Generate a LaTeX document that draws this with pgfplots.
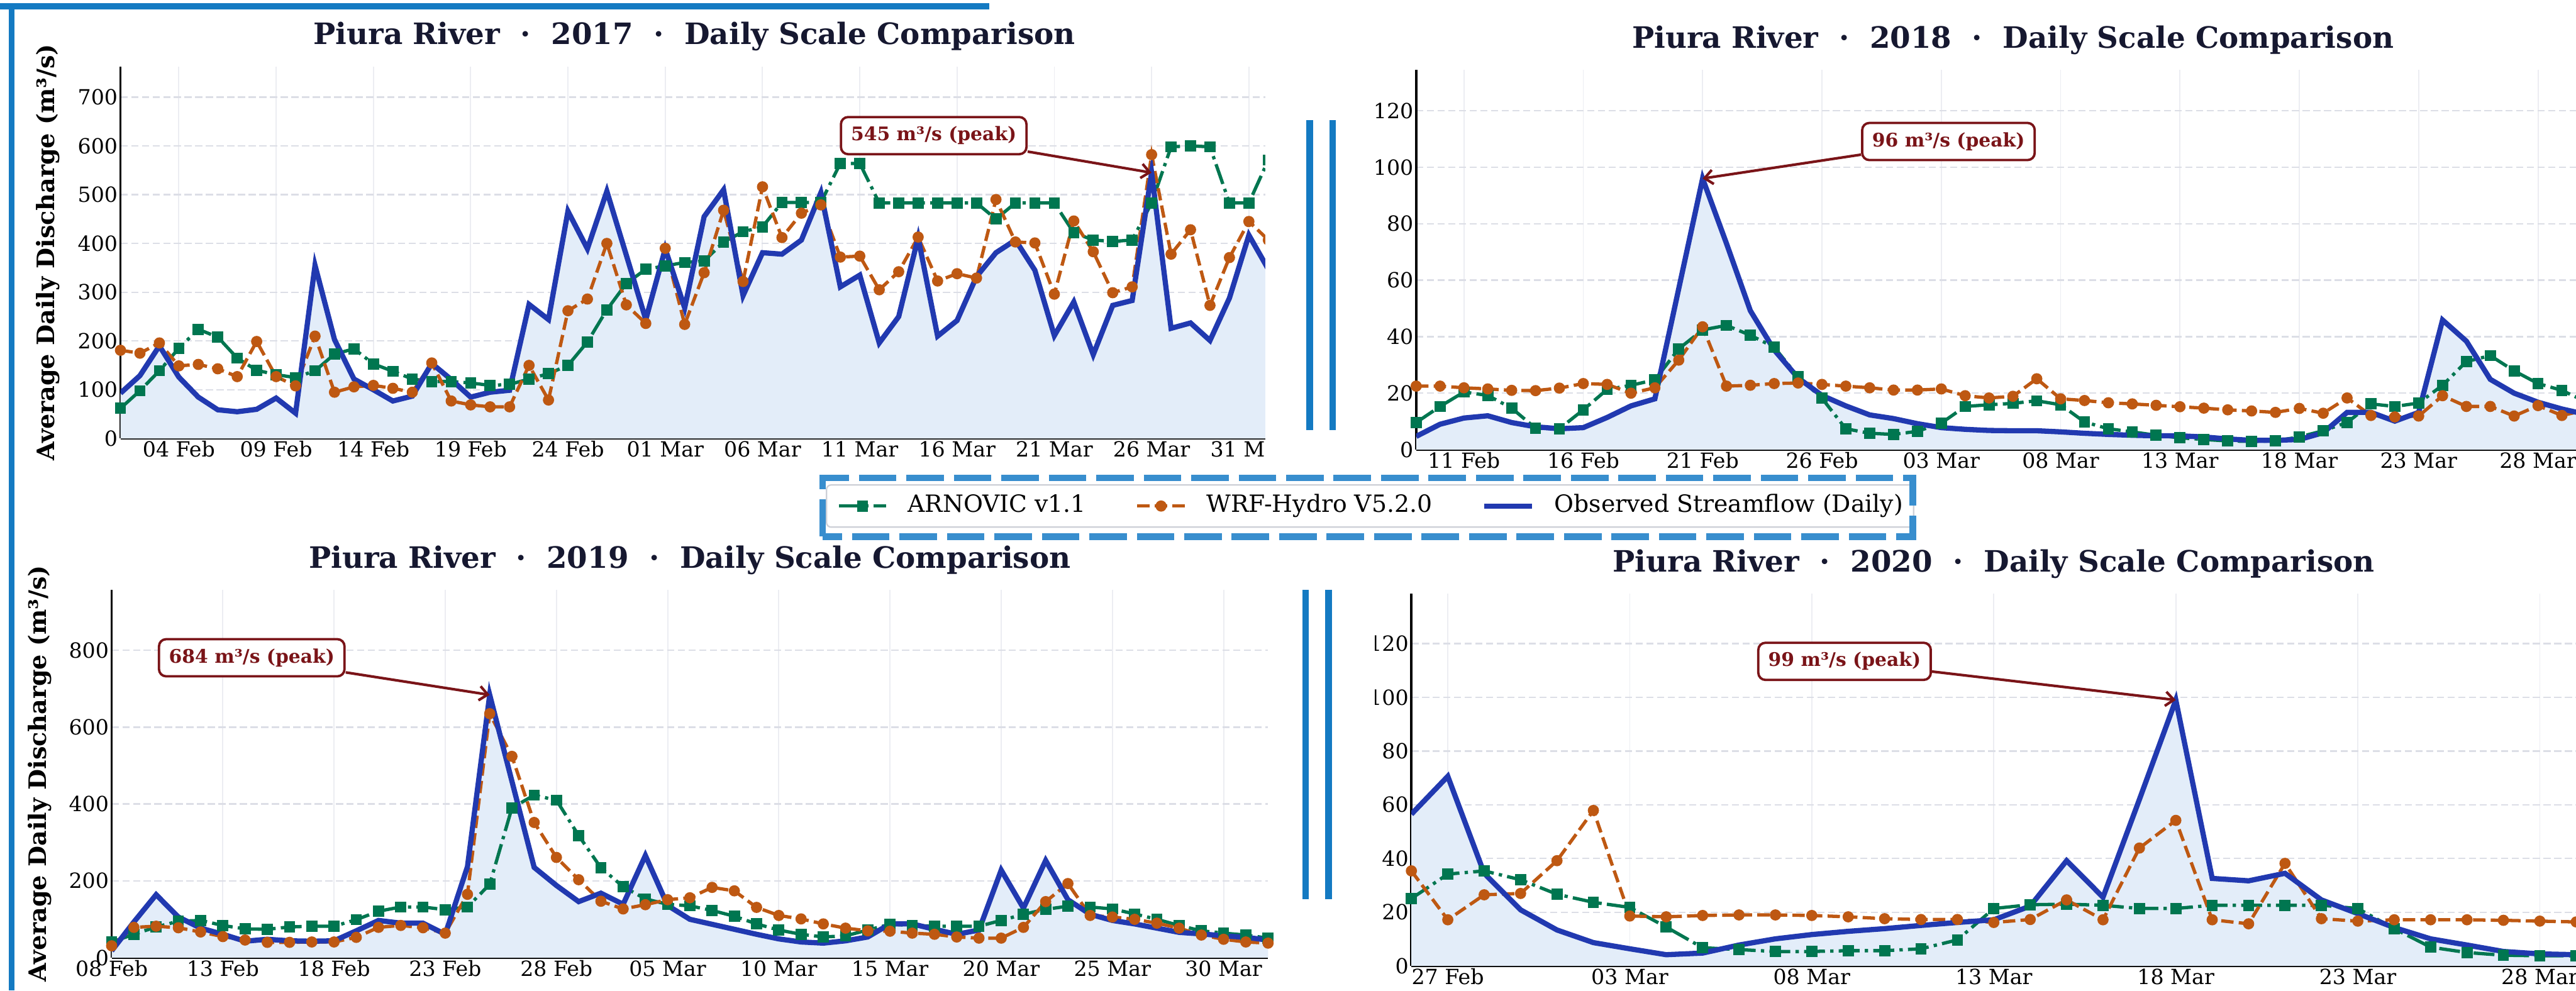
\documentclass[border=0pt]{standalone}
\usepackage{fontspec}
\setmainfont{DejaVu Serif}
\usepackage{pgfplots}
\pgfplotsset{compat=1.18}
\usepackage{pgfplotstable}
\usetikzlibrary{arrows.meta}

\definecolor{obsblue}{RGB}{33,57,176}
\definecolor{obsfill}{RGB}{227,237,249}
\definecolor{arngreen}{RGB}{0,118,80}
\definecolor{wrforange}{RGB}{190,88,18}
\definecolor{annred}{RGB}{122,20,24}
\definecolor{barblue}{RGB}{20,122,194}
\definecolor{legblue}{RGB}{56,142,206}
\definecolor{titlecol}{RGB}{22,24,48}
\definecolor{xgridcol}{RGB}{236,237,242}
\definecolor{ygridcol}{RGB}{220,222,230}
\definecolor{legframe}{RGB}{205,208,215}

\pgfplotstableread{
d obs arn wrf
0 93 62 181
1 129 98 175
2 190 139 196
3 126 185 149
4 85 224 152
5 59 208 143
6 55 165 127
7 60 140 199
8 83 131 127
9 52 125 108
10 355 139 210
11 203 173 95
12 122 184 106
13 100 153 109
14 77 138 103
15 87 122 95
16 154 117 155
17 121 117 77
18 85 114 69
19 95 109 65
20 99 111 65
21 275 122 150
22 244 133 79
23 466 150 262
24 389 198 286
25 507 264 400
26 376 318 274
27 244 347 236
28 389 354 390
29 268 361 234
30 455 364 340
31 510 403 468
32 293 424 322
33 381 434 516
34 378 484 412
35 407 484 462
36 504 484 479
37 311 564 372
38 335 564 374
39 196 483 305
40 250 483 342
41 412 483 413
42 210 483 323
43 242 483 338
44 332 483 329
45 381 450 490
46 407 483 403
47 345 483 401
48 211 483 296
49 280 422 446
50 172 407 383
51 273 404 299
52 283 407 311
53 545 483 582
54 226 598 378
55 237 600 428
56 201 598 273
57 288 483 371
58 417 483 445
59 347 571 407
}\tabA

\pgfplotstableread{
d obs arn wrf
0 4.7 9.6 22.5
1 9.0 15.3 22.5
2 11.2 20.4 21.9
3 12.0 19.2 21.5
4 9.6 14.7 21.0
5 8.1 7.6 20.9
6 7.4 7.4 21.8
7 7.8 14.1 23.4
8 11.4 21.3 23.1
9 15.5 22.8 20.0
10 18.0 24.7 21.9
11 57 35.7 31.7
12 96 42.4 43.5
13 73 44.0 22.5
14 49.2 40.5 22.8
15 35.3 36.3 23.4
16 25.4 25.8 23.6
17 19.2 18.2 23.1
18 15.5 7.4 22.5
19 12.3 5.8 21.9
20 11.0 5.4 21.1
21 9.2 6.5 21.1
22 7.8 9.4 21.5
23 7.2 15.3 19.1
24 6.8 15.9 18.3
25 6.7 16.4 18.9
26 6.7 17.3 25.1
27 6.3 15.9 18.0
28 5.8 9.8 17.4
29 5.4 7.4 16.6
30 5.1 6.3 16.2
31 4.9 5.1 15.7
32 4.9 4.2 15.2
33 4.5 3.6 14.7
34 3.8 3.1 14.1
35 3.3 2.9 13.7
36 3.3 3.1 13.2
37 3.6 4.5 14.6
38 6.0 6.7 12.9
39 13.2 9.6 18.3
40 13.2 16.2 12.1
41 10.1 15.3 11.6
42 13.2 16.5 11.9
43 45.9 22.8 19.1
44 38.4 31.2 15.3
45 24.9 33.3 15.3
46 20.0 27.9 11.9
47 16.8 23.4 15.6
48 14.4 21.0 12.1
49 12.5 17 14
50 11 14 12
}\tabB

\pgfplotstableread{
d obs arn wrf
0 18 41 31
1 93 61 79
2 164 80 82
3 106 95 78
4 77 97 67
5 61 84 55
6 43 75 46
7 48 74 40
8 44 80 40
9 43 82 41
10 44 82 41
11 70 99 53
12 97 121 79
13 90 132 84
14 90 132 78
15 61 125 64
16 237 132 165
17 684 191 635
18 459 390 524
19 235 423 352
20 188 410 261
21 146 318 203
22 168 234 147
23 139 185 127
24 266 153 138
25 136 139 151
26 100 135 156
27 87 123 183
28 74 108 174
29 61 88 131
30 49 72 110
31 41 61 101
32 38 54 88
33 44 57 77
34 54 72 70
35 88 87 69
36 88 84 64
37 74 82 61
38 61 82 54
39 72 82 51
40 228 97 51
41 129 113 79
42 253 126 146
43 151 134 193
44 113 132 110
45 97 127 106
46 88 114 100
47 77 100 90
48 66 84 77
49 62 70 59
50 57 64 48
51 53 59 41
52 46 51 38
}\tabC

\pgfplotstableread{
d obs arn wrf
0 56.5 25.1 35.4
1 70.6 34.2 17.2
2 34.5 35.4 26.5
3 20.9 32.1 27.0
4 13.4 26.7 39.2
5 8.7 23.7 57.9
6 6.4 21.8 18.6
7 4.2 14.5 18.3
8 4.8 6.8 18.8
9 7.8 6.1 19.0
10 10.1 5.4 19.0
11 11.7 5.4 18.8
12 12.9 5.7 18.3
13 13.9 5.7 17.6
14 15.1 6.4 17.3
15 16.2 9.7 17.3
16 17.2 21.4 16.2
17 22.3 22.8 17.3
18 39.2 23.0 24.6
19 25.6 22.6 17.2
20 62 21.4 43.9
21 99 21.4 54.2
22 32.6 22.6 17.2
23 31.7 22.6 15.7
24 34.5 22.6 38.2
25 24.6 22.6 17.6
26 19.5 21.4 16.7
27 14.3 13.9 17.2
28 10.1 7.0 17.2
29 7.8 5.0 17.2
30 5.4 4.0 17.0
31 4.5 3.8 16.7
32 4.2 3.8 16.4
}\tabD

\pgfplotsset{
  panel/.style={
    scale only axis,
    axis lines*=left,
    axis line style={line width=1pt, black},
    xmin=0, ymin=0,
    major tick length=0pt,
    tick style={draw=none},
    xmajorgrids, ymajorgrids,
    x grid style={line width=0.5pt, color=xgridcol},
    y grid style={line width=0.6pt, color=ygridcol, dash pattern=on 3pt off 1.5pt},
    ticklabel style={font=\fontsize{8.8}{10}\selectfont},
    /pgf/number format/assume math mode=true,
    xticklabel style={anchor=base, yshift=-7.7pt, inner sep=0pt},
    yticklabel style={anchor=east, inner sep=0pt, xshift=-1pt},
    every axis title/.style={at={(0.5,1)}, anchor=base, yshift=9.2pt, font=\bfseries\fontsize{12.4}{14}\selectfont, text=titlecol},
    every axis y label/.style={font=\bfseries\fontsize{10.1}{12}\selectfont, anchor=center, rotate=90},
    legend image code/.code={\draw[mark repeat=2, mark phase=2, ##1] plot coordinates {(0pt,0pt) (10pt,0pt) (20pt,0pt)};},
  },
  arn/.style={color=arngreen, line width=1.4pt, dash pattern=on 8.8pt off 2.2pt on 1.4pt off 2.2pt, mark=square*, mark size=1.65pt, mark options={solid, fill=arngreen}},
  wrf/.style={color=wrforange, line width=1.4pt, dash pattern=on 5.2pt off 2.2pt, mark=*, mark size=1.65pt, mark options={solid, fill=wrforange}},
  obs/.style={color=obsblue, line width=2.2pt, solid, mark=none},
  obsarea/.style={draw=none, fill=obsfill, forget plot, mark=none},
}
\tikzset{
  annbox/.style={draw=annred, line width=1pt, rounded corners=3pt, fill=white, text=annred, font=\bfseries\fontsize{7.9}{9}\selectfont, inner xsep=4.2pt, inner ysep=4pt},
  annarrow/.style={annred, line width=1.1pt, -{Straight Barb[length=3.5pt, width=6pt]}},
}

\begin{document}
\begin{tikzpicture}
\path[use as bounding box] (0,0) rectangle (1085.28pt,417.36pt);
\clip (0,0) rectangle (1085.28pt,417.36pt);

% ---------- 2017 ----------
\begin{axis}[panel, at={(50.76pt,232.56pt)}, anchor=south west,
  width=483.6pt, height=156.84pt, xmax=59, ymax=763,
  ytick={0,100,...,700},
  xtick={3,8,...,58},
  xticklabels={04 Feb,09 Feb,14 Feb,19 Feb,24 Feb,01 Mar,06 Mar,11 Mar,16 Mar,21 Mar,26 Mar,31 Mar},
  title={Piura River\ \ ·\ \ 2017\ \ ·\ \ Daily Scale Comparison},
  ylabel={Average Daily Discharge (m³/s)},
  ylabel style={at={(axis description cs:-0.0631,0.5)}},
  legend columns=3,
  legend style={at={(1.0886,-0.1813)}, anchor=center, draw=legframe, fill=white, rounded corners=2pt, line width=0.6pt,
    font=\fontsize{10}{12}\selectfont, inner xsep=4.5pt, inner ysep=4pt,
    nodes={inner sep=0pt, text height=7.6pt, text depth=2.2pt},
    /tikz/every odd column/.append style={column sep=8.4pt},
    /tikz/every even column/.append style={column sep=20.9pt}},
]
\addplot[obsarea] table[x=d,y=obs] {\tabA} \closedcycle;
\addplot[arn] table[x=d,y=arn] {\tabA};
\addlegendentry{ARNOVIC v1.1}
\addplot[wrf] table[x=d,y=wrf] {\tabA};
\addlegendentry{WRF-Hydro V5.2.0}
\addplot[obs] table[x=d,y=obs] {\tabA};
\addlegendentry{Observed Streamflow (Daily)}
\node[annbox] (a17) at (axis cs:41.8,621) {545 m³/s (peak)};
\draw[annarrow] (a17) -- (axis cs:53,545);
\end{axis}

% panel crop of the 2017 figure at its right edge
\fill[white] (533.0pt,216.5pt) rectangle (549pt,393pt);

% ---------- 2018 ----------
\begin{axis}[panel, at={(596.64pt,227.88pt)}, anchor=south west,
  width=502.8pt, height=159.96pt, xmax=50, ymax=134.4,
  ytick={0,20,...,120},
  xtick={2,7,...,47},
  xticklabels={11 Feb,16 Feb,21 Feb,26 Feb,03 Mar,08 Mar,13 Mar,18 Mar,23 Mar,28 Mar},
  title={Piura River\ \ ·\ \ 2018\ \ ·\ \ Daily Scale Comparison},
]
\addplot[obsarea] table[x=d,y=obs] {\tabB} \closedcycle;
\addplot[arn] table[x=d,y=arn] {\tabB};
\addplot[wrf] table[x=d,y=wrf] {\tabB};
\addplot[obs] table[x=d,y=obs] {\tabB};
\node[annbox] (a18) at (axis cs:22.3,109.1) {96 m³/s (peak)};
\draw[annarrow] (a18) -- (axis cs:12,96);
\end{axis}

% ---------- 2019 ----------
\begin{axis}[panel, at={(47.04pt,13.8pt)}, anchor=south west,
  width=487.2pt, height=155.06pt, xmax=52, ymax=957.6,
  ytick={0,200,...,800},
  xtick={0,5,...,50},
  xticklabels={08 Feb,13 Feb,18 Feb,23 Feb,28 Feb,05 Mar,10 Mar,15 Mar,20 Mar,25 Mar,30 Mar},
  title={Piura River\ \ ·\ \ 2019\ \ ·\ \ Daily Scale Comparison},
  ylabel={Average Daily Discharge (m³/s)},
  ylabel style={at={(axis description cs:-0.0621,0.5)}},
]
\addplot[obsarea] table[x=d,y=obs] {\tabC} \closedcycle;
\addplot[arn] table[x=d,y=arn] {\tabC};
\addplot[wrf] table[x=d,y=wrf] {\tabC};
\addplot[obs] table[x=d,y=obs] {\tabC};
\node[annbox] (a19) at (axis cs:6.3,780.6) {684 m³/s (peak)};
\draw[annarrow] (a19) -- (axis cs:17,684);
\end{axis}

% ---------- 2020 ----------
\begin{axis}[panel, at={(594.62pt,10.32pt)}, anchor=south west,
  width=490.75pt, height=156.89pt, xmax=32, ymax=138.6,
  ytick={0,20,...,120},
  xtick={1,6,...,31},
  xticklabels={27 Feb,03 Mar,08 Mar,13 Mar,18 Mar,23 Mar,28 Mar},
  title={Piura River\ \ ·\ \ 2020\ \ ·\ \ Daily Scale Comparison},
]
\addplot[obsarea] table[x=d,y=obs] {\tabD} \closedcycle;
\addplot[arn] table[x=d,y=arn] {\tabD};
\addplot[wrf] table[x=d,y=wrf] {\tabD};
\addplot[obs] table[x=d,y=obs] {\tabD};
\node[annbox] (a20) at (axis cs:11.9,113.4) {99 m³/s (peak)};
\draw[annarrow] (a20) -- (axis cs:21,99);
\end{axis}

% panel crop of the 2020 figure at its left edge
\fill[white] (563pt,0pt) rectangle (579.1pt,180pt);

% ---------- decorations ----------
\draw[legblue, line width=2.88pt, dash pattern=on 15.8pt off 4.2pt] (346.56pt,191.28pt) rectangle (805.92pt,216.0pt);
\fill[barblue] (550.38pt,236.16pt) rectangle (553.14pt,366.72pt);
\fill[barblue] (560.1pt,236.16pt) rectangle (562.86pt,366.72pt);
\fill[barblue] (548.7pt,38.4pt) rectangle (551.46pt,168.72pt);
\fill[barblue] (558.3pt,38.4pt) rectangle (561.06pt,168.72pt);
\fill[barblue] (0pt,413.5pt) rectangle (416.9pt,416.1pt);
\fill[barblue] (3.6pt,0pt) rectangle (6.2pt,416.1pt);
\end{tikzpicture}
\end{document}
